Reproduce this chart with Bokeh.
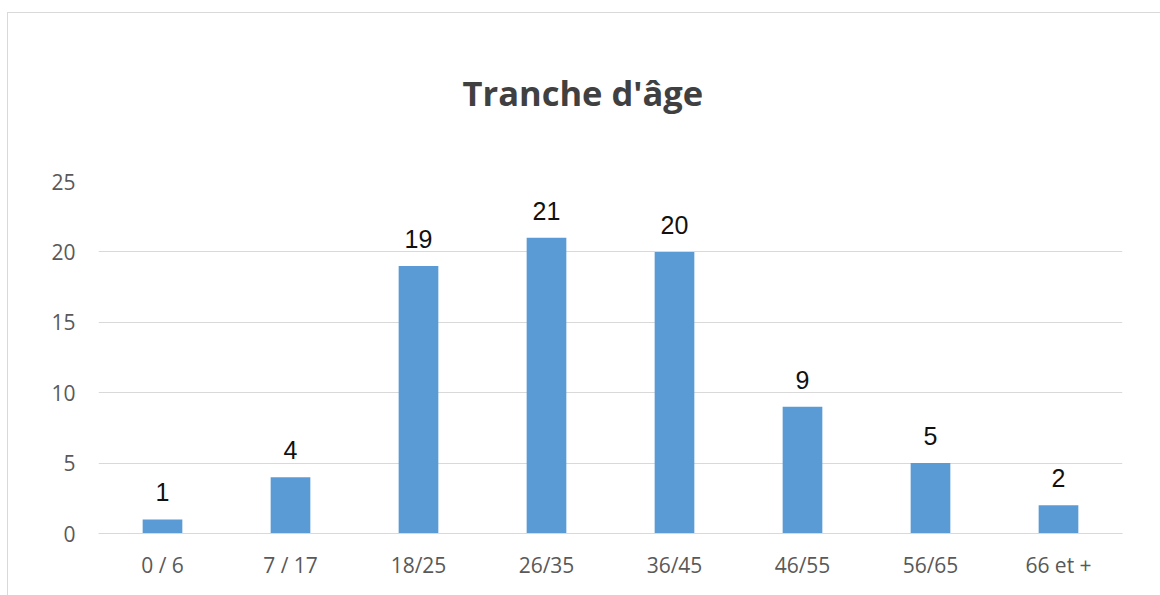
from bokeh.plotting import figure
from bokeh.models import ColumnDataSource, FactorRange, Range1d, FixedTicker
from bokeh.core.properties import value
from bokeh.embed import file_html
from bokeh.resources import INLINE

categories = ["0 / 6", "7 / 17", "18/25", "26/35", "36/45", "46/55", "56/65", "66 et +"]
counts = [1, 4, 19, 21, 20, 9, 5, 2]
y_ticks = [0, 5, 10, 15, 20, 25]
title_text = "Tranche d'âge"

src = ColumnDataSource(dict(cat=categories, val=counts, lab=[str(v) for v in counts]))

p = figure(width=1160, height=595, output_backend="svg", toolbar_location=None,
           title=title_text,
           x_range=FactorRange(*categories, range_padding=0), y_range=Range1d(0, 25),
           min_border_left=98, min_border_right=38, min_border_top=180, min_border_bottom=62)
p.outline_line_color = None
p.background_fill_color = "white"
p.border_fill_alpha = 0
p.styles = {
    "background": "linear-gradient(#d9d9d9,#d9d9d9) 7px 12px / 1px 100% no-repeat, "
                  "linear-gradient(#d9d9d9,#d9d9d9) 7px 12px / 100% 1px no-repeat, white",
}

p.title.align = "left"
p.title.offset = 364
p.title.standoff = 132
p.title.text_font = "Open Sans"
p.title.text_font_style = "bold"
p.title.text_font_size = "34.5px"
p.title.text_color = "#404040"

p.vbar(x="cat", top="val", width=0.31, source=src, fill_color="#5b9bd5", line_color=None)
p.text(x="cat", y="val", text="lab", source=src, y_offset=-27, text_align="center",
       text_baseline="alphabetic", text_font=value("Liberation Sans"), text_font_size="25px",
       text_color="#111111")

p.xgrid.grid_line_color = None
p.ygrid.grid_line_color = "#d9d9d9"
p.ygrid.grid_line_width = 1
p.yaxis.ticker = FixedTicker(ticks=y_ticks)

p.yaxis.axis_line_color = None
p.yaxis.major_tick_line_color = None
p.yaxis.minor_tick_line_color = None
p.yaxis.major_label_standoff = 17
p.xaxis.axis_line_color = "#d9d9d9"
p.xaxis.major_tick_line_color = None
p.xaxis.minor_tick_line_color = None
p.xaxis.major_label_standoff = 11
for ax in (p.xaxis, p.yaxis):
    ax.major_label_text_font = "Open Sans"
    ax.major_label_text_font_size = "21px"
    ax.major_label_text_color = "#595959"

open("out.html", "w").write(file_html(p, INLINE))
